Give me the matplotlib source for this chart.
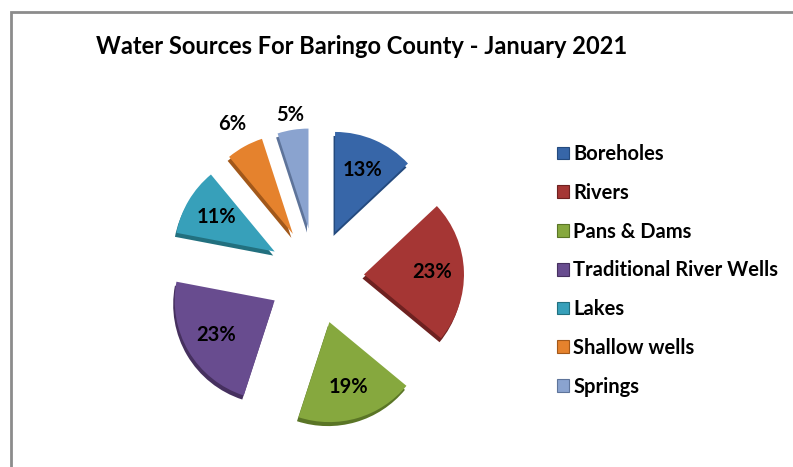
import matplotlib
matplotlib.use("Agg")
import matplotlib.pyplot as plt
from matplotlib.patches import Rectangle, Patch
import numpy as np

plt.rcParams['font.family'] = ['Lato', 'DejaVu Sans']

# water source shares (%)
sources = ['Boreholes', 'Rivers', 'Pans & Dams', 'Traditional River Wells',
           'Lakes', 'Shallow wells', 'Springs']
shares = [13, 23, 19, 23, 11, 6, 5]
colors = ['#3766A8', '#A53634', '#86A83E', '#684C8F', '#37A0BA', '#E5822D', '#8AA3CF']
sides = ['#244A7E', '#6E2120', '#5A7526', '#46305F', '#22707F', '#A2581A', '#5E749A']

W, H = 793, 467
fig = plt.figure(figsize=(W / 100, H / 100), dpi=100)
ax = fig.add_axes([0, 0, 1, 1])

# chart frame
fig.patches.append(Rectangle((11 / W, -0.1), 1.2, (H - 12) / H + 0.1,
                             transform=fig.transFigure, fill=False,
                             edgecolor='#8c8c8c', lw=2))

cx, cy, r = 316, H - 276, 100
explode = [48] * len(shares)   # offset in data units (pixels)

# side walls (depth of the 3d pie)
ax.pie(shares, colors=sides, startangle=90, counterclock=False, radius=r,
       center=(cx - 1.5, cy - 4), explode=explode, frame=True,
       wedgeprops=dict(linewidth=0))

wedges, texts, autotexts = ax.pie(
    shares, colors=colors, startangle=90, counterclock=False, radius=r,
    center=(cx, cy), explode=explode, frame=True,
    autopct='%d%%', pctdistance=0.68,
    wedgeprops=dict(linewidth=0),
    textprops=dict(fontsize=14.5, fontweight='bold', color='black'))

# move labels of the thin slices outside
for w, t, v in zip(wedges, autotexts, shares):
    if v < 8:
        ang = np.deg2rad((w.theta1 + w.theta2) / 2)
        x0, y0 = w.center
        d = 1.25 if v == 6 else 1.15
        t.set_position((x0 + d * r * np.cos(ang), y0 + d * r * np.sin(ang)))

ax.set_xlim(0, W)
ax.set_ylim(0, H)
ax.set_aspect('equal')
ax.axis('off')

ax.text(362, H - 46, 'Water Sources For Baringo County - January 2021',
        ha='center', va='center', fontsize=17, fontweight='bold')

handles = [Patch(facecolor=c, edgecolor=s, lw=0.8) for c, s in zip(colors, sides)]
leg = ax.legend(handles, sources, loc='upper left',
                bbox_to_anchor=(539 / W, 1 - 126 / H), frameon=False,
                handlelength=0.6, handleheight=0.6, handletextpad=0.2,
                labelspacing=0.93, prop=dict(size=14.5, weight='bold'))

fig.savefig('out.png', dpi=100)
